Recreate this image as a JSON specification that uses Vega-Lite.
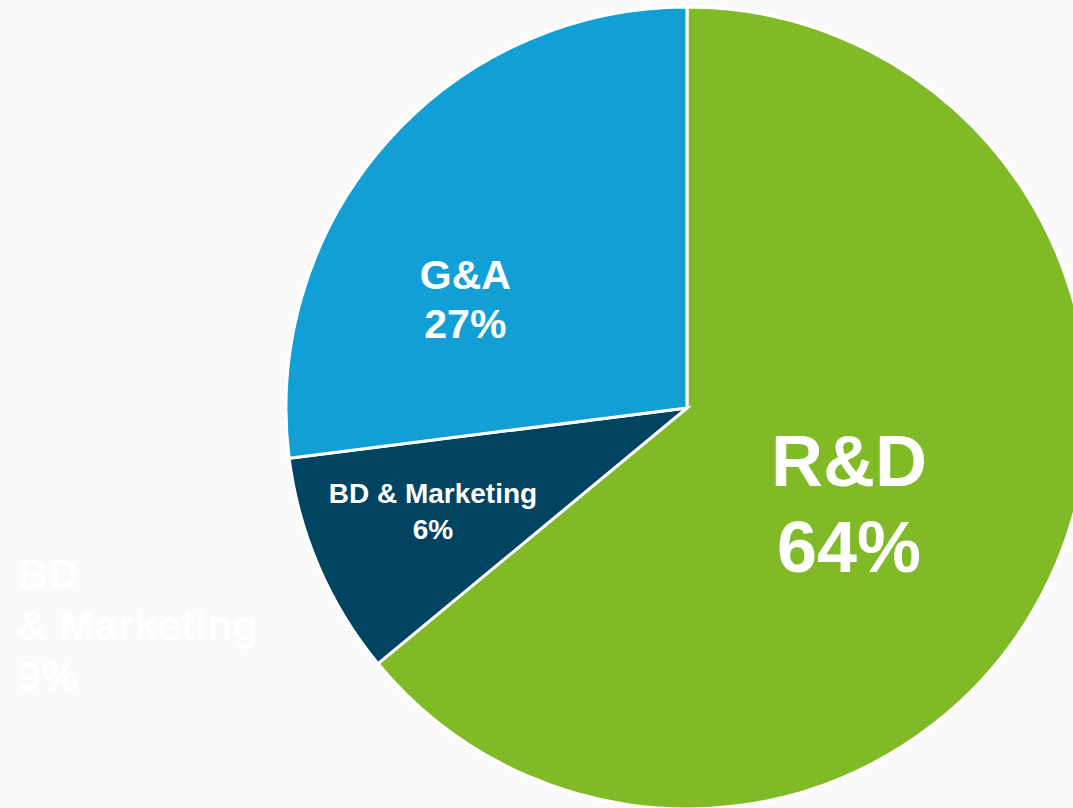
{
  "$schema": "https://vega.github.io/schema/vega-lite/v6.json",
  "width": 1374,
  "height": 816,
  "padding": 0,
  "autosize": {"type": "none"},
  "background": "#fafafa",
  "config": {"view": {"stroke": null}, "font": "Liberation Sans"},
  "data": {
    "values": [
      {"cat": "R&D", "value": 64, "ord": 1, "label": "R&D\n64%", "ghost": ""},
      {"cat": "BD & Marketing", "value": 9, "ord": 2, "label": "BD & Marketing\n6%", "ghost": "BD\n& Marketing\n9%"},
      {"cat": "G&A", "value": 27, "ord": 3, "label": "G&A\n27%", "ghost": ""}
    ]
  },
  "encoding": {
    "theta": {"field": "value", "type": "quantitative", "stack": true},
    "order": {"field": "ord", "type": "quantitative"}
  },
  "layer": [
    {
      "mark": {"type": "arc", "radius": 401, "stroke": "white", "strokeWidth": 3},
      "encoding": {
        "color": {
          "field": "cat",
          "type": "nominal",
          "scale": {"domain": ["R&D", "BD & Marketing", "G&A"], "range": ["#80ba27", "#004462", "#119fd6"]},
          "legend": null
        }
      }
    },
    {
      "mark": {"type": "text", "radius": 190, "thetaOffset": 0.11, "dy": -43, "fontSize": 72, "fontWeight": "bold", "fill": "white", "align": "center", "baseline": "middle", "lineBreak": "\n", "lineHeight": 86},
      "encoding": {"text": {"condition": {"test": "datum.cat === 'R&D'", "field": "label"}, "value": ""}}
    },
    {
      "mark": {"type": "text", "radius": 246, "thetaOffset": -0.274, "dy": -24.5, "fontSize": 41, "fontWeight": "bold", "fill": "white", "align": "center", "baseline": "middle", "lineBreak": "\n", "lineHeight": 49},
      "encoding": {"text": {"condition": {"test": "datum.cat === 'G&A'", "field": "label"}, "value": ""}}
    },
    {
      "mark": {"type": "text", "radius": 275, "thetaOffset": 0.016, "dy": -18, "fontSize": 28, "fontWeight": "bold", "fill": "white", "align": "center", "baseline": "middle", "lineBreak": "\n", "lineHeight": 36},
      "encoding": {"text": {"condition": {"test": "datum.cat === 'BD & Marketing'", "field": "label"}, "value": ""}}
    },
    {
      "mark": {"type": "text", "radius": 704, "thetaOffset": 0.0925, "dy": -51, "fontSize": 42, "fontWeight": "bold", "fill": "white", "align": "left", "baseline": "middle", "lineBreak": "\n", "lineHeight": 51},
      "encoding": {"text": {"field": "ghost"}}
    }
  ]
}
